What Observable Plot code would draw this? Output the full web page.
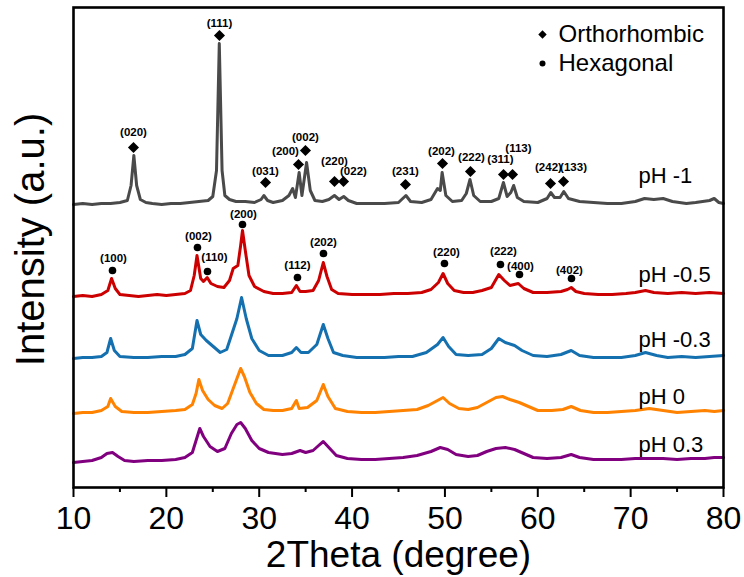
<!DOCTYPE html>
<html><head><meta charset="utf-8">
<script src="https://cdn.jsdelivr.net/npm/d3@7"></script>
<script src="https://cdn.jsdelivr.net/npm/@observablehq/plot@0.6"></script>
<style>
body{margin:0;background:#fff;}
#chart svg{display:block;font-family:"Liberation Sans",Arial,sans-serif;}
#chart svg g[aria-label="x-axis tick label"] text{font-family:"Liberation Sans Narrow","Arial Narrow","Liberation Sans",sans-serif;}
</style>
</head><body><div id="chart"></div>
<script>
// ---- series (2θ, intensity in a.u., stacked with offsets) ----
const seriesNames = ["pH -1", "pH -0.5", "pH -0.3", "pH 0", "pH 0.3"];
const seriesColors = ["#4a4a4a", "#cc0000", "#1570b0", "#ff8200", "#800080"];

const pHm1 = [[10,283],[11,284],[12,283],[13,284],[14,284],[15,285],[15.8,287],[16.2,302],[16.5,332],[16.8,302],[17.2,288],[17.8,285],[18.5,284],[19.5,283],[20.5,284],[21.5,284],[22.5,285],[23.5,286],[24.5,287],[25.0,291],[25.4,317],[25.7,444],[26.0,317],[26.3,292],[26.8,288],[27.5,286],[28.5,286],[29.5,285],[30.2,288],[30.5,292],[30.9,287],[31.5,285],[32.5,287],[33.2,292],[33.6,299],[33.9,290],[34.3,315],[34.6,292],[35.1,325],[35.5,297],[36.0,287],[36.8,286],[37.5,288],[38.1,292],[38.6,288],[39.1,291],[39.6,287],[40.5,284],[42,284],[43.5,284],[45,285],[45.8,292],[46.3,286],[47.5,285],[48.5,288],[49.2,299],[49.5,297],[49.7,315],[50.1,292],[50.8,286],[51.8,287],[52.3,294],[52.7,308],[53.1,292],[53.8,286],[55,286],[55.8,289],[56.3,305],[56.7,291],[57.1,295],[57.4,302],[57.8,290],[58.5,286],[60,285],[61.0,289],[61.4,295],[61.8,290],[62.4,290],[62.8,296],[63.3,289],[64.5,286],[66,285],[67.5,284],[69,284],[70.5,286],[71.5,289],[72.5,288],[73.5,289],[74.5,286],[76,284],[77,285],[78.5,287],[79,289],[79.5,285],[80,284]];
const pHm05 = [[10,191],[11,192],[12,191],[13,193],[13.7,197],[14.1,209],[14.5,199],[15,193],[16,192],[17,191],[18,192],[19,193],[20,192],[21,193],[22,194],[22.6,197],[23.0,212],[23.3,232],[23.7,209],[24.0,206],[24.4,210],[24.8,204],[25.5,201],[26.2,200],[26.8,207],[27.2,219],[27.7,222],[28.0,242],[28.2,257],[28.5,237],[28.9,212],[29.5,201],[30.5,196],[31.5,194],[32.5,194],[33.5,195],[34.0,202],[34.4,196],[35,196],[35.8,197],[36.4,207],[36.9,225],[37.3,211],[37.8,198],[38.5,194],[40,193],[41.5,193],[43,193],[44.5,194],[46,194],[47.5,195],[48.5,198],[49.3,205],[49.8,214],[50.3,204],[51,197],[52,195],[53,195],[54,197],[55,200],[55.8,213],[56.4,207],[57.0,202],[57.9,204],[58.5,199],[59.5,195],[61,195],[62.5,196],[63.2,198],[63.6,200],[64.1,196],[65,194],[66.5,193],[68,193],[69.5,194],[70.5,195],[71.6,197],[72.5,195],[74,194],[75.5,195],[77,194],[78.5,195],[80,194]];
const pHm03 = [[10,129],[11,130],[12,130],[13,131],[13.6,135],[14.0,149],[14.4,137],[15,131],[16.5,130],[18,130],[19.5,131],[21,131],[22,133],[22.8,139],[23.3,167],[23.7,153],[24.3,147],[24.8,143],[25.8,135],[26.5,138],[27.0,152],[27.6,169],[28.1,190],[28.6,169],[29.2,149],[30,137],[31,132],[32.5,132],[33.5,135],[34.0,140],[34.5,135],[35.3,135],[36.2,143],[36.9,163],[37.4,149],[38.0,135],[39,132],[40.5,130],[42,130],[43.5,130],[45,131],[46.5,131],[48,135],[49.2,143],[49.8,150],[50.4,141],[51.2,133],[52.5,132],[54,133],[55,139],[55.8,149],[56.5,145],[57.5,142],[58.3,137],[59.5,132],[61,131],[62.5,133],[63.6,137],[64.5,132],[66,130],[67.5,130],[69,130],[70.5,132],[71.6,135],[72.8,132],[74,130],[75.5,131],[77,130],[78.5,131],[80,132]];
const pH0 = [[10,74],[11,75],[12,75],[13,77],[13.7,81],[14.0,89],[14.5,81],[15.2,76],[16.5,75],[18,75],[19.5,76],[21,77],[22,78],[22.8,83],[23.2,94],[23.5,108],[23.9,97],[24.5,88],[25.2,82],[26.0,79],[26.6,84],[27,94],[27.6,109],[28.0,119],[28.4,111],[29,95],[29.7,84],[30.5,78],[31.5,77],[32.5,77],[33.5,79],[34.0,87],[34.3,79],[35.2,80],[36.2,87],[36.9,103],[37.4,91],[38.2,79],[39.5,76],[41,75],[42.5,75],[44,76],[45.5,77],[47,78],[48.2,82],[49.2,87],[49.8,90],[50.5,84],[51.5,79],[52.5,78],[53.5,80],[54.5,85],[55.5,90],[56.2,91],[57,88],[58,85],[59,81],[60,77],[61.5,77],[62.7,78],[63.6,81],[64.6,77],[66,75],[67.5,75],[69,76],[70.5,77],[72,79],[73.5,77],[75,75],[76.5,76],[78,77],[79,76],[80,77]];
const pH03 = [[10,25],[11,26],[12,27],[13,30],[13.6,34],[14.2,35],[14.8,31],[15.5,27],[16.5,26],[18,27],[19.5,27],[21,28],[22,30],[22.8,35],[23.3,50],[23.6,59],[24.0,51],[24.7,41],[25.5,36],[26.3,39],[27,54],[27.6,63],[28.0,65],[28.5,59],[29.2,47],[30,39],[31,35],[32.5,33],[33.5,34],[34.4,37],[35.0,35],[35.8,37],[36.4,42],[36.9,46],[37.5,40],[38.3,32],[39.5,29],[41,28],[42.5,28],[44,29],[45.5,30],[47,32],[48.5,36],[49.5,40],[50.3,38],[51.2,33],[52.5,31],[53.5,32],[54.5,36],[55.5,39],[56.5,40],[57.5,38],[58.5,34],[59.5,30],[61,29],[62.5,30],[63.6,33],[64.5,30],[66,28],[67.5,28],[69,28],[70.5,29],[72,29],[73.5,29],[75,28],[76.5,29],[78,29],[79,30],[80,30]];
const seriesData = [pHm1, pHm05, pHm03, pH0, pH03];

// series label anchor (2θ, intensity)
const seriesLabelTheta = [70.85, 70.85, 70.85, 70.85, 70.85];
const seriesLabelLevel = [312, 213, 148, 91, 43];

// ---- orthorhombic reflections (pH -1) ----
const orthoHKL = ["(020)","(111)","(031)","(200)","(002)","(220)","(022)","(231)","(202)","(222)","(311)","(113)","(242)","(133)"];
const orthoTheta = [16.46,25.72,30.68,34.23,34.98,38.11,39.08,45.75,49.74,52.75,56.31,57.28,61.37,62.77];
const orthoLevel = [340,452,305,323,337,306,306,303,324,316,313,313,304,306];
const orthoLabelTheta = [16.46,25.72,30.68,32.83,34.98,38.11,40.15,45.75,49.63,52.86,55.98,57.92,61.15,63.85];
const orthoLabelLevel = [355,464,316,336,350,326,316,316,336,330,328,339,320,320];

// ---- hexagonal reflections (pH -0.5) ----
const hexHKL = ["(100)","(002)","(110)","(200)","(112)","(202)","(220)","(222)","(400)","(402)"];
const hexTheta = [14.20,23.35,24.43,28.20,34.12,36.92,49.95,55.98,58.03,63.63];
const hexLevel = [217,240,216,263,210,234,224,223,213,209];
const hexLabelTheta = [14.31,23.46,25.18,28.31,34.12,36.92,50.17,56.31,58.14,63.41];
const hexLabelLevel = [229,251,230,273,222,245,235,236,221,217];

// ---- axis ----
const xTicks = [10,20,30,40,50,60,70,80];
const xMinorTicks = [15,25,35,45,55,65,75];
const xTitle = "2Theta (degree)";
const yTitle = "Intensity (a.u.)";
const legendNames = ["Orthorhombic", "Hexagonal"];
const legendSymbols = ["diamond2", "circle"];

// ---- build tables ----
const lineRows = seriesData.flatMap((s, i) => s.map(([t, v]) => ({series: seriesNames[i], theta: t, intensity: v})));
const labelRows = seriesNames.map((n, i) => ({name: n, theta: seriesLabelTheta[i], level: seriesLabelLevel[i]}));
const orthoRows = orthoHKL.map((h, i) => ({hkl: h, theta: orthoTheta[i], level: orthoLevel[i], lt: orthoLabelTheta[i], ll: orthoLabelLevel[i]}));
const hexRows = hexHKL.map((h, i) => ({hkl: h, theta: hexTheta[i], level: hexLevel[i], lt: hexLabelTheta[i], ll: hexLabelLevel[i]}));

const font = "Liberation Sans, Arial, sans-serif";

const chart = Plot.plot({
  width: 744,
  height: 577,
  marginLeft: 73,
  marginRight: 21,
  marginTop: 7,
  marginBottom: 90,
  style: {fontFamily: font, background: "#fff", color: "#000"},
  x: {domain: [10, 80]},
  y: {domain: [0, 480], axis: null},
  color: {domain: seriesNames, range: seriesColors},
  marks: [
    Plot.line(lineRows, {x: "theta", y: "intensity", z: "series", stroke: "series", strokeWidth: 3, strokeLinejoin: "round"}),
    Plot.text(labelRows, {x: "theta", y: "level", text: "name", textAnchor: "start", fontSize: 22, fill: "#000"}),
    Plot.dot(orthoRows, {x: "theta", y: "level", symbol: "diamond2", r: 5, fill: "#000", stroke: "none"}),
    Plot.text(orthoRows, {x: "lt", y: "ll", text: "hkl", fontSize: 11.5, fontWeight: "bold", fill: "#000"}),
    Plot.dot(hexRows, {x: "theta", y: "level", symbol: "circle", r: 3.8, fill: "#000", stroke: "none"}),
    Plot.text(hexRows, {x: "lt", y: "ll", text: "hkl", fontSize: 11.5, fontWeight: "bold", fill: "#000"}),
    ...legendNames.flatMap((n, i) => [
      Plot.dot([n], {frameAnchor: "top-left", dx: 469, dy: 27 + i * 29, symbol: legendSymbols[i], r: legendSymbols[i] === "circle" ? 3 : 3.8, fill: "#000", stroke: "none"}),
      Plot.text([n], {frameAnchor: "top-left", dx: 485, dy: 27 + i * 29, text: d => d, textAnchor: "start", lineAnchor: "middle", fontSize: 24, fill: "#000"})
    ]),
    Plot.axisX({ticks: xTicks, tickSize: 10, tickPadding: 9, strokeWidth: 2, fontSize: 32, label: null}),
    Plot.axisX({ticks: xMinorTicks, tickSize: 5, strokeWidth: 2, tickFormat: () => "", label: null}),
    Plot.frame({stroke: "#000", strokeWidth: 2.6}),
    Plot.text([xTitle], {frameAnchor: "bottom", dy: 68, lineAnchor: "middle", textAnchor: "middle", fontSize: 37, fill: "#000", text: d => d}),
    Plot.text([yTitle], {frameAnchor: "left", dx: -42, dy: -8, rotate: -90, textAnchor: "middle", lineAnchor: "middle", fontSize: 40, fill: "#000", text: d => d})
  ]
});
document.getElementById("chart").appendChild(chart);
</script>
</body></html>
